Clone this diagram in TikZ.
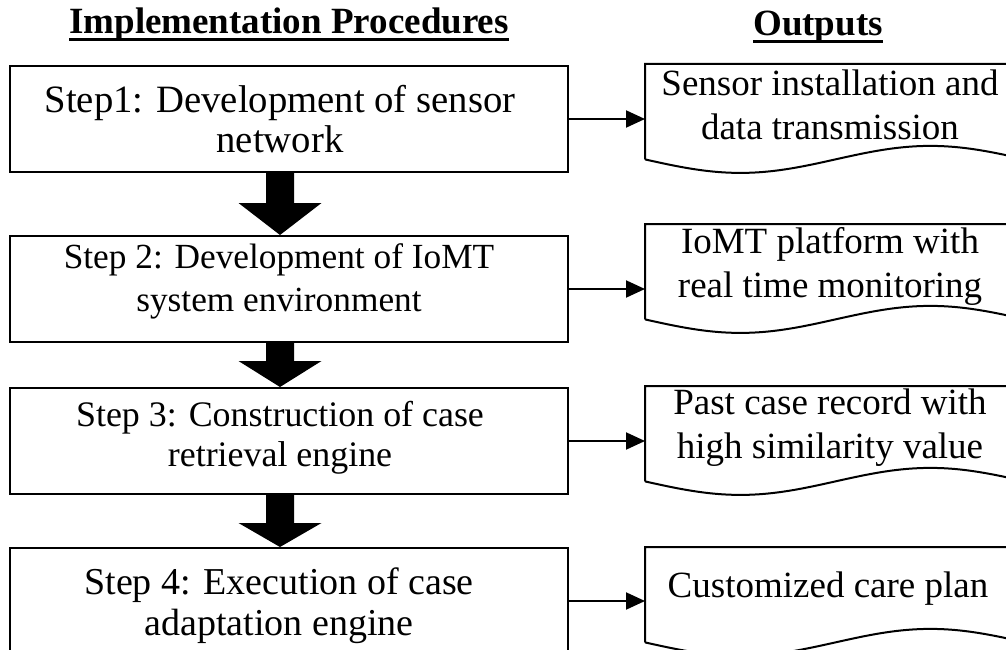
\documentclass[tikz,border=0pt]{standalone}
\usepackage{fontspec}
\setmainfont{Liberation Serif}
\usetikzlibrary{arrows.meta,calc}

\tikzset{
  stepbox/.style={draw, line width=2pt, minimum width=558pt, minimum height=106pt, inner sep=0pt},
  steptext/.style={align=center, inner sep=0pt},
  docarea/.style={minimum width=380pt, minimum height=95pt, inner sep=0pt, anchor=north west},
  docline/.style={line width=2pt, line join=miter},
  doctext/.style={align=center, font=\fontsize{37}{44}\selectfont, inner sep=0pt},
  heading/.style={font=\fontsize{37}{42}\selectfont\bfseries, inner sep=0pt, anchor=base},
  headrule/.style={line width=3pt},
  link/.style={line width=2pt, -{Triangle[length=19pt,width=17pt]}},
}

% thick block arrow: #1 start, #2 tip, #3 head length
\newcommand\blockarrow[3]{%
  \fill ($(#1)+(-14,0)$) -- ($(#1)+(14,0)$) -- ($(#2)+(14,-#3)$)
    -- ($(#2)+(41.5,-#3)$) -- (#2) -- ($(#2)+(-41.5,-#3)$)
    -- ($(#2)+(-14,-#3)$) -- cycle;}

% document outline with a wavy bottom edge
\newcommand\docshape[1]{%
  \draw[docline] (#1.south west) -- (#1.north west) -- (#1.north east) -- (#1.south east)
    sin ($(#1.south east)+(-95,-13.5)$) cos ($(#1.south east)+(-190,0)$)
    sin ($(#1.south east)+(-285,13.5)$) cos (#1.south west);}

\begin{document}
\begin{tikzpicture}[x=1pt,y=-1pt]
\useasboundingbox (0,0) rectangle (1006,650);
\clip (0,0) rectangle (1006,650);

% column headings
\node[heading] (h1) at (289,34) {Implementation Procedures};
\node[heading] (h2) at (818,36) {Outputs};
\draw[headrule] ([yshift=-6pt]h1.base west) -- ([yshift=-6pt]h1.base east);
\draw[headrule] ([yshift=-6pt]h2.base west) -- ([yshift=-6pt]h2.base east);

% procedure steps
\node[stepbox] (s1) at (289,119) {};
\node[stepbox] (s2) at (289,289) {};
\node[stepbox] (s3) at (289,441) {};
\node[stepbox] (s4) at (289,601) {};
\node[steptext, font=\fontsize{38.7}{40}\selectfont] (t1) at (280,119)
  {Step1: Development of sensor\\network};
\node[steptext, font=\fontsize{35.3}{43}\selectfont] (t2) at (279,281)
  {Step 2: Development of IoMT\\system environment};
\node[steptext, font=\fontsize{35.9}{40}\selectfont] (t3) at (280,438)
  {Step 3: Construction of case\\retrieval engine};
\node[steptext, font=\fontsize{38}{41}\selectfont] (t4) at (279,606)
  {Step 4: Execution of case\\adaptation engine};

% block arrows between steps
\coordinate (a1) at (280,0 |- s1.south);
\coordinate (b1) at (280,0 |- s2.north);
\coordinate (a2) at (280,0 |- s2.south);
\coordinate (b2) at (280,0 |- s3.north);
\coordinate (a3) at (280,0 |- s3.south);
\coordinate (b3) at (280,0 |- s4.north);
\blockarrow{a1}{b1}{32}
\blockarrow{a2}{b2}{26}
\blockarrow{a3}{b3}{24}

% outputs
\node[docarea] (d1) at (645,64) {};
\node[docarea] (d2) at (645,224) {};
\node[docarea] (d3) at (645,386) {};
\node[docarea] (d4) at (645,547) {};
\docshape{d1}
\docshape{d2}
\docshape{d3}
\docshape{d4}
\node[doctext] (o1) at (830,105) {Sensor installation and\\data transmission};
\node[doctext] (o2) at (830,266) {IoMT platform with\\real time monitoring};
\node[doctext] (o3) at (830,428) {Past case record with\\high similarity value};
\node[doctext] (o4) at (828,589) {Customized care plan};

% step to output links
\draw[link] (s1.east) -- (s1.east -| d1.west);
\draw[link] (s2.east) -- (s2.east -| d2.west);
\draw[link] (s3.east) -- (s3.east -| d3.west);
\draw[link] (s4.east) -- (s4.east -| d4.west);
\end{tikzpicture}
\end{document}
